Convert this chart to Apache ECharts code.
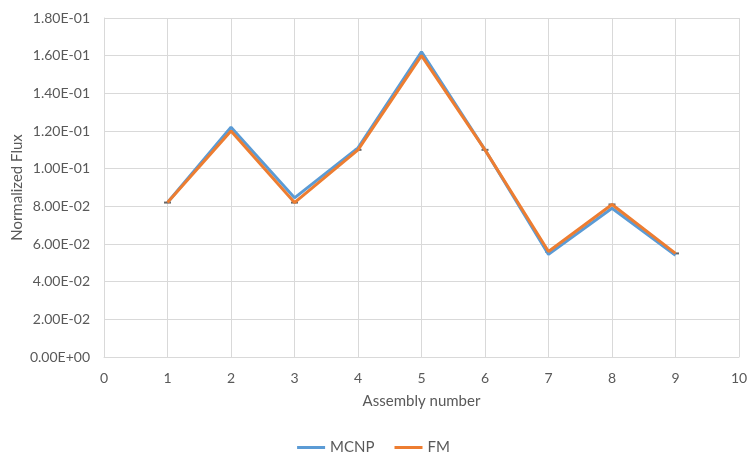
<!DOCTYPE html>
<html><head><meta charset="utf-8">
<script src="https://cdn.jsdelivr.net/npm/echarts@6/dist/echarts.min.js"></script>
<style>html,body{margin:0;padding:0;background:#fff}#c{width:747px;height:455px}</style>
</head><body><div id="c"></div>
<script>
var assemblies = [1, 2, 3, 4, 5, 6, 7, 8, 9];
var mcnp = [0.082, 0.122, 0.0845, 0.111, 0.162, 0.110, 0.0545, 0.079, 0.054];
var fm = [0.082, 0.120, 0.082, 0.110, 0.160, 0.110, 0.056, 0.081, 0.055];

function fmtExp(v) {
  if (Math.abs(v) < 1e-12) return '0.00E+00';
  var s = v.toExponential(2).split('e');
  var e = parseInt(s[1], 10);
  var sign = e < 0 ? '-' : '+';
  var ea = Math.abs(e);
  return s[0] + 'E' + sign + (ea < 10 ? '0' + ea : ea);
}
function pairs(xs, ys) { return xs.map(function (x, i) { return [x, ys[i]]; }); }

var font = 'Lato, Open Sans, sans-serif';
var chart = echarts.init(document.getElementById('c'));
chart.setOption({
  animation: false,
  grid: { left: 104, right: 8, top: 18, bottom: 98, containLabel: false, outerBoundsMode: 'none' },
  legend: {
    data: ['MCNP', 'FM'], bottom: -5, left: 'center', itemWidth: 28, itemHeight: 3, itemGap: 20,
    icon: 'rect',
    textStyle: { color: '#595959', fontSize: 15, fontFamily: font }
  },
  xAxis: {
    type: 'value', min: 0, max: 10, interval: 1,
    name: 'Assembly number', nameLocation: 'middle', nameGap: 37, nameMoveOverlap: false,
    nameTextStyle: { color: '#595959', fontSize: 15, fontFamily: font },
    axisLine: { show: true, lineStyle: { color: '#d9d9d9' } },
    axisTick: { show: false },
    axisLabel: { color: '#595959', fontSize: 14, fontFamily: font, margin: 14 },
    splitLine: { show: true, lineStyle: { color: '#d9d9d9' } }
  },
  yAxis: {
    type: 'value', min: 0, max: 0.18, interval: 0.02,
    name: 'Normalized Flux', nameLocation: 'middle', nameGap: 79, nameRotate: 90, nameMoveOverlap: false,
    nameTextStyle: { color: '#595959', fontSize: 15, fontFamily: font },
    axisLine: { show: true, lineStyle: { color: '#d9d9d9' } },
    axisTick: { show: false },
    axisLabel: { color: '#595959', fontSize: 14, fontFamily: font, margin: 14, formatter: fmtExp },
    splitLine: { show: true, lineStyle: { color: '#d9d9d9' } }
  },
  series: [
    { name: 'MCNP', type: 'line', data: pairs(assemblies, mcnp), symbol: 'none',
      lineStyle: { color: '#5B9BD5', width: 3 }, itemStyle: { color: '#5B9BD5' } },
    { name: 'FM', type: 'line', data: pairs(assemblies, fm), symbol: 'none',
      lineStyle: { color: '#ED7D31', width: 3 }, itemStyle: { color: '#ED7D31' } },
    { name: 'err', type: 'scatter', data: pairs(assemblies, fm), symbol: 'rect', symbolSize: [7, 2],
      itemStyle: { color: '#404040' }, z: 1, silent: true }
  ]
});
</script></body></html>
